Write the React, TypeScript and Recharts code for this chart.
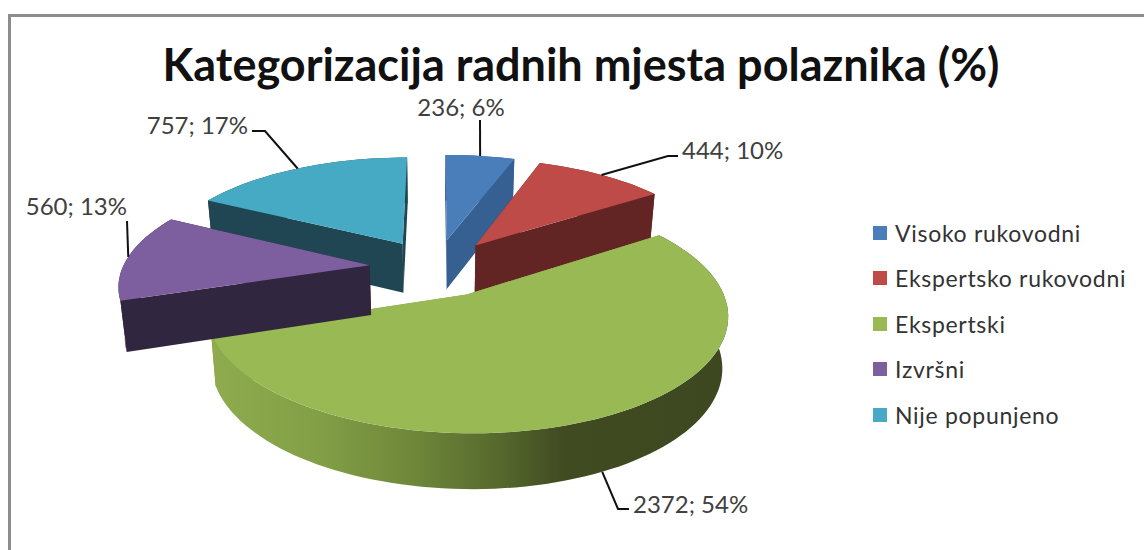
import { PieChart, Pie, Cell, Legend } from "recharts";

const categories = ["Visoko rukovodni", "Ekspertsko rukovodni", "Ekspertski", "Izvršni", "Nije popunjeno"];
const values = [236, 444, 2372, 560, 757];
const percents = [6, 10, 54, 13, 17];

const topColors = ["#4a7ebb", "#be4b48", "#98b954", "#7d5fa0", "#46aac5"];
const sideColors = ["#376092", "#632523", "url(#greenWall)", "#31263f", "#1f4652"];

// painter's order: teal goes behind purple, so the pie starts at the last slice
const drawOrder = [4, 0, 1, 2, 3];
const total = values.reduce((a, b) => a + b, 0);
const chartData = drawOrder.map((i) => ({ name: categories[i], value: values[i], idx: i }));
const firstAngle = 90 + (360 * values[4]) / total;

// fake 3D: ground plane seen through a simple perspective
const FLATTEN = 0.433;
const PERSPECTIVE = 0.16;
const EXPLODE = 0.27;
const DEPTH = 50;
const BOTTOM_SCALE = 0.98;

const rad = (d: number) => (d * Math.PI) / 180;

function project(cx: number, cy: number, r: number, X: number, Y: number, bottom: boolean) {
    const w = 1 + PERSPECTIVE * Y;
    const x = (r * X) / w;
    const y = (-r * FLATTEN * Y) / w;
    return bottom ? [cx + x * BOTTOM_SCALE, cy + y + DEPTH / Math.sqrt(w)] : [cx + x, cy + y];
}

function slicePoint(cx: number, cy: number, r: number, mid: number, a: number | null, bottom: boolean) {
    const ox = EXPLODE * Math.sin(rad(mid));
    const oy = EXPLODE * Math.cos(rad(mid));
    if (a === null) return project(cx, cy, r, ox, oy, bottom);
    return project(cx, cy, r, ox + Math.sin(rad(a)), oy + Math.cos(rad(a)), bottom);
}

const toPath = (pts: number[][]) => "M" + pts.map((p) => p[0].toFixed(1) + "," + p[1].toFixed(1)).join("L") + "Z";

function Slice3D(props: any) {
    const { cx, cy, outerRadius, startAngle, endAngle, fill } = props;
    const idx = props.idx ?? props.payload?.idx;
    const a0 = 90 - startAngle;
    const a1 = 90 - endAngle;
    const mid = (a0 + a1) / 2;
    const side = sideColors[idx];

    const arc = (bottom: boolean) => {
        const pts: number[][] = [];
        const n = Math.ceil((a1 - a0) / 2);
        for (let k = 0; k <= n; k++) pts.push(slicePoint(cx, cy, outerRadius, mid, a0 + ((a1 - a0) * k) / n, bottom));
        return pts;
    };
    const top = arc(false);
    const low = arc(true);
    const apex = slicePoint(cx, cy, outerRadius, mid, null, false);
    const apexLow = slicePoint(cx, cy, outerRadius, mid, null, true);
    const faceColor = idx === 2 ? "#8aa54b" : side;

    return (
        <g>
            <defs>
                <linearGradient id="greenWall" x1="0" y1="0" x2="1" y2="0">
                    <stop offset="0" stopColor="#8fab4e" />
                    <stop offset="0.2" stopColor="#84a047" />
                    <stop offset="0.4" stopColor="#6d8639" />
                    <stop offset="0.565" stopColor="#55672c" />
                    <stop offset="0.68" stopColor="#404b22" />
                    <stop offset="1" stopColor="#3d4820" />
                </linearGradient>
            </defs>
            <path d={toPath([apex, top[0], low[0], apexLow])} fill={faceColor} />
            <path d={toPath([apex, top[top.length - 1], low[low.length - 1], apexLow])} fill={faceColor} />
            <path d={toPath([...top, ...[...low].reverse()])} fill={side} />
            <path d={toPath([apex, ...top])} fill={fill} />
        </g>
    );
}

// leader line: elbow and text anchor for each category
const leaderElbows = [
    [[480, 120]],
    [[668, 156], [678, 156]],
    [[618, 509], [629, 509]],
    [[127, 221]],
    [[265, 131], [252, 131]],
];
const labelSpots: [number, number, "start" | "middle" | "end"][] = [
    [461, 106, "middle"],
    [682, 149, "start"],
    [633, 503, "start"],
    [127, 205, "end"],
    [248, 124, "end"],
];

function SliceLabel(props: any) {
    const { cx, cy, outerRadius, midAngle } = props;
    const idx = props.idx ?? props.payload?.idx;
    const mid = 90 - midAngle;
    const from = slicePoint(cx, cy, outerRadius, mid, mid, idx === 2);
    const pts = [from, ...leaderElbows[idx]];
    const [tx, ty, anchor] = labelSpots[idx];
    return (
        <g>
            <polyline points={pts.map((p) => p.join(",")).join(" ")} fill="none" stroke="#111" strokeWidth={2} />
            <text x={tx} y={ty} textAnchor={anchor} dominantBaseline="central" fontSize={24} fontFamily="Lato" fill="#404040">
                {values[idx] + "; " + percents[idx] + "%"}
            </text>
        </g>
    );
}

function SideLegend() {
    return (
        <div style={{ position: "absolute", left: 873, top: 210, fontFamily: "Lato", fontSize: 23, letterSpacing: 0.7, lineHeight: "26px", color: "#333", whiteSpace: "nowrap" }}>
            {categories.map((c, i) => (
                <div key={c} style={{ display: "flex", alignItems: "center", height: 45.5 }}>
                    <span style={{ width: 14, height: 14, marginRight: 8, background: topColors[i] }} />
                    {c}
                </div>
            ))}
        </div>
    );
}

export default function App() {
    return (
        <div style={{ position: "absolute", left: 0, top: 0, width: 1144, height: 550, overflow: "hidden", background: "#fff" }}>
            <div style={{ position: "absolute", left: 8, top: 14, width: 1136, height: 536, borderTop: "3px solid #8c8c8c", borderLeft: "3px solid #8c8c8c", boxSizing: "border-box" }} />
            <PieChart width={1144} height={550} style={{ position: "absolute", left: 0, top: 0 }}>
                <text x={581} y={64} textAnchor="middle" dominantBaseline="central" fontSize={45} fontWeight={700} fontFamily="Lato" fill="#111">
                    Kategorizacija radnih mjesta polaznika (%)
                </text>
                <Pie
                    data={chartData}
                    dataKey="value"
                    nameKey="name"
                    cx={431}
                    cy={262.5}
                    outerRadius={247}
                    startAngle={firstAngle}
                    endAngle={firstAngle - 360}
                    stroke="none"
                    shape={Slice3D}
                    label={SliceLabel}
                    labelLine={false}
                    isAnimationActive={false}
                >
                    {chartData.map((d) => (
                        <Cell key={d.name} fill={topColors[d.idx]} />
                    ))}
                </Pie>
                <Legend content={SideLegend} wrapperStyle={{ left: 0, top: 0, bottom: "auto", width: 1144, height: 0 }} />
            </PieChart>
        </div>
    );
}
